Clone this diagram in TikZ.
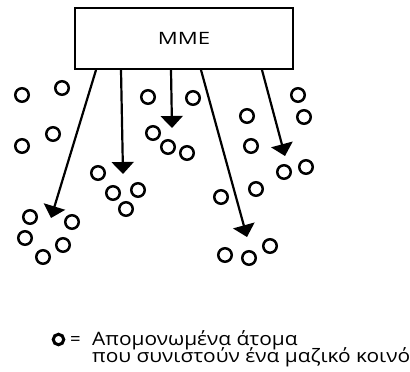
\documentclass[tikz,border=0pt]{standalone}
\usepackage{fontspec}
\setmainfont{Open Sans}
\usetikzlibrary{arrows.meta}
\tikzset{
  person/.style={circle, draw, line width=2.5pt, minimum size=13.5pt, inner sep=0pt},
  push/.style={-{Triangle[width=22pt,length=12pt]}, line width=2.2pt},
  label text/.style={inner sep=0pt, font=\fontsize{18.5}{17}\selectfont},
}
\newcommand{\wide}[1]{\scalebox{1.13}[1]{#1}}
\begin{document}
\begin{tikzpicture}[x=1pt, y=-1pt]
      \useasboundingbox (0,0) rectangle (410,372);
      \node (mme)[draw, line width=2pt, minimum width=218pt, minimum height=61pt, font=\fontsize{17}{17}\selectfont] at (184,38.5) {\scalebox{1.3}[1]{MME}};
      % isolated people
      \foreach \x/\y [count=\i] in {22/95, 62/88, 53/134, 22/146,
          148/97, 193/98, 153/133, 168/147, 187/153,
          298/95, 304/117, 247/116, 251/146, 284/172, 306/167,
          98/173, 113/193, 138/190, 126/209, 221/197, 256/189,
          30/217, 72/222, 25/238, 63/245, 43/257,
          225/255, 249/258, 270/246}
        \node (p\i)[person] at (\x,\y) {};
      % arrow ends
      \coordinate (t1) at (51,218);
      \coordinate (t2) at (123,174);
      \coordinate (t3) at (172,128);
      \coordinate (t4) at (247,237);
      \coordinate (t5) at (285,156);
      \draw[push] ([xshift=22pt]mme.south west) -- (t1);
      \draw[push] ([xshift=47pt]mme.south west) -- (t2);
      \draw[push] ([xshift=97pt]mme.south west) -- (t3);
      \draw[push] ([xshift=127pt]mme.south west) -- (t4);
      \draw[push] ([xshift=188pt]mme.south west) -- (t5);
      % legend
      \node (key)[person, line width=3pt, minimum size=10.5pt] at (58.5,339.5) {};
      \node (eq)[label text, anchor=base west] at (70,345) {=};
      \node (legend)[label text, anchor=base west] at (92,345) {\wide{Απομονωμένα άτομα}};
      \node (legend2)[label text, anchor=base west] at (92,362) {\wide{που συνιστούν ένα μαζικό κοινό}};
    \end{tikzpicture}
\end{document}
